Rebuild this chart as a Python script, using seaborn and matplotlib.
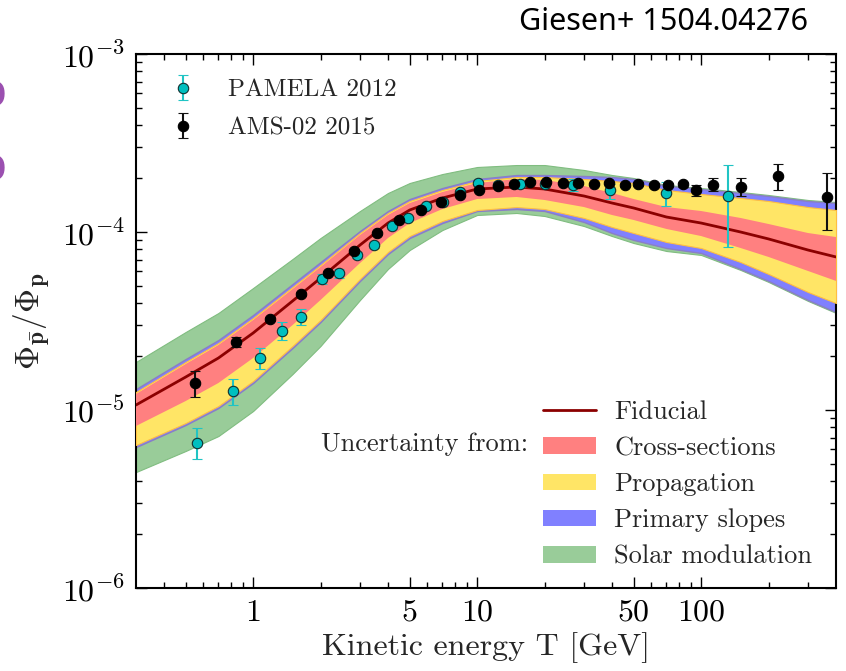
import numpy as np
import pandas as pd
import matplotlib
matplotlib.use("Agg")
import matplotlib.pyplot as plt
import seaborn as sns
from matplotlib.ticker import FixedLocator, FixedFormatter, NullFormatter
from matplotlib.patches import Patch
from matplotlib.lines import Line2D

# ---------------- data ----------------
band_T = [0.3, 0.5, 0.7, 1, 1.5, 2, 3, 4, 5, 7, 10, 15, 20, 30, 40, 50, 70, 100, 150, 200, 300, 400]
fiducial = [1.067e-5, 1.532e-5, 1.959e-5, 2.707e-5, 4.096e-5, 5.51e-5, 8.45e-5, 1.123e-4,
            1.329e-4, 1.552e-4, 1.744e-4, 1.790e-4, 1.744e-4, 1.593e-4, 1.455e-4, 1.364e-4,
            1.214e-4, 1.123e-4, 1.000e-4, 9.14e-5, 7.92e-5, 7.24e-5]
solar_hi = [1.861e-5, 2.743e-5, 3.507e-5, 4.845e-5, 7.05e-5, 9.25e-5, 1.312e-4, 1.656e-4,
            1.885e-4, 2.117e-4, 2.318e-4, 2.378e-4, 2.378e-4, 2.23e-4, 2.09e-4, 2.01e-4,
            1.837e-4, 1.767e-4, 1.678e-4, 1.614e-4, 1.513e-4, 1.474e-4]
slope_hi = [1.312e-5, 1.934e-5, 2.473e-5, 3.417e-5, 5.10e-5, 6.78e-5, 1.013e-4, 1.312e-4,
            1.532e-4, 1.767e-4, 1.985e-4, 2.09e-4, 2.09e-4, 2.064e-4, 2.037e-4, 1.985e-4,
            1.814e-4, 1.744e-4, 1.656e-4, 1.593e-4, 1.493e-4, 1.455e-4]
prop_hi = [1.262e-5, 1.861e-5, 2.379e-5, 3.287e-5, 4.91e-5, 6.53e-5, 9.87e-5, 1.279e-4,
           1.493e-4, 1.722e-4, 1.934e-4, 2.037e-4, 2.037e-4, 1.985e-4, 1.934e-4, 1.885e-4,
           1.722e-4, 1.635e-4, 1.552e-4, 1.493e-4, 1.381e-4, 1.329e-4]
xs_hi = [1.230e-5, 1.813e-5, 2.318e-5, 3.203e-5, 4.78e-5, 6.36e-5, 9.62e-5, 1.246e-4,
         1.455e-4, 1.678e-4, 1.885e-4, 1.985e-4, 1.959e-4, 1.814e-4, 1.656e-4, 1.532e-4,
         1.381e-4, 1.312e-4, 1.199e-4, 1.109e-4, 9.87e-5, 9.37e-5]
xs_lo = [8.13e-6, 1.123e-5, 1.418e-5, 1.959e-5, 3.00e-5, 4.15e-5, 6.69e-5, 9.25e-5,
         1.123e-4, 1.346e-4, 1.532e-4, 1.573e-4, 1.513e-4, 1.381e-4, 1.246e-4, 1.168e-4,
         1.040e-4, 9.49e-5, 8.13e-5, 7.24e-5, 6.04e-5, 5.31e-5]
prop_lo = [6.36e-6, 8.45e-6, 1.053e-5, 1.455e-5, 2.29e-5, 3.203e-5, 5.45e-5, 7.72e-5,
           9.49e-5, 1.153e-4, 1.329e-4, 1.381e-4, 1.346e-4, 1.199e-4, 1.067e-4, 9.87e-5,
           8.79e-5, 8.13e-5, 6.78e-5, 5.81e-5, 4.60e-5, 3.99e-5]
slope_lo = [6.19e-6, 8.24e-6, 1.026e-5, 1.418e-5, 2.23e-5, 3.12e-5, 5.31e-5, 7.52e-5,
            9.25e-5, 1.123e-4, 1.312e-4, 1.346e-4, 1.312e-4, 1.138e-4, 9.87e-5, 9.02e-5,
            8.13e-5, 7.62e-5, 6.20e-5, 5.31e-5, 4.15e-5, 3.55e-5]
solar_lo = [4.48e-6, 5.885e-6, 7.14e-6, 9.87e-6, 1.593e-5, 2.29e-5, 4.15e-5, 6.20e-5,
            7.92e-5, 1.026e-4, 1.246e-4, 1.279e-4, 1.230e-4, 1.080e-4, 9.49e-5, 8.67e-5,
            7.82e-5, 7.43e-5, 6.12e-5, 5.24e-5, 4.10e-5, 3.51e-5]

pam_T = [0.562, 0.813, 1.073, 1.346, 1.636, 2.03, 2.42, 2.91, 3.47, 4.17, 4.91,
         5.91, 7.04, 8.39, 10.09, 12.4, 15.5, 20.1, 26.8, 39.2, 69.7, 131.8]
pam_y = [6.53e-6, 1.279e-5, 1.959e-5, 2.78e-5, 3.33e-5, 5.45e-5, 5.88e-5, 7.43e-5,
         8.45e-5, 1.080e-4, 1.199e-4, 1.400e-4, 1.474e-4, 1.678e-4, 1.885e-4,
         1.837e-4, 1.861e-4, 1.861e-4, 1.837e-4, 1.722e-4, 1.656e-4, 1.593e-4]
pam_lo = [5.31e-6, 1.067e-5, 1.70e-5, 2.47e-5, 3.00e-5, 5.1e-5, 5.55e-5, 7.1e-5,
          8.15e-5, 1.045e-4, 1.165e-4, 1.36e-4, 1.43e-4, 1.63e-4, 1.83e-4,
          1.77e-4, 1.78e-4, 1.78e-4, 1.70e-4, 1.53e-4, 1.40e-4, 8.23e-5]
pam_hi = [7.92e-6, 1.494e-5, 2.23e-5, 3.12e-5, 3.69e-5, 5.8e-5, 6.2e-5, 7.75e-5,
          8.75e-5, 1.115e-4, 1.235e-4, 1.44e-4, 1.52e-4, 1.73e-4, 1.94e-4,
          1.90e-4, 1.94e-4, 1.94e-4, 1.98e-4, 1.861e-4, 1.916e-4, 2.38e-4]

ams_T = [0.550, 0.839, 1.19, 1.636, 2.16, 2.82, 3.57, 4.48, 5.62, 6.90, 8.39,
         10.19, 12.4, 14.6, 17.2, 20.3, 24.2, 28.2, 33.2, 38.8, 45.7, 52.3, 61.6,
         71.1, 83.0, 94.9, 113, 150.7, 220, 365]
ams_y = [1.418e-5, 2.41e-5, 3.24e-5, 4.48e-5, 5.88e-5, 7.82e-5, 9.87e-5, 1.168e-4,
         1.329e-4, 1.474e-4, 1.614e-4, 1.722e-4, 1.814e-4, 1.861e-4, 1.910e-4,
         1.910e-4, 1.885e-4, 1.885e-4, 1.861e-4, 1.885e-4, 1.837e-4, 1.861e-4,
         1.837e-4, 1.837e-4, 1.861e-4, 1.722e-4, 1.837e-4, 1.790e-4, 2.064e-4, 1.573e-4]
ams_lo = [1.183e-5, 2.26e-5, 3.16e-5, 4.38e-5, 5.76e-5, 7.66e-5, 9.68e-5, 1.146e-4,
          1.304e-4, 1.446e-4, 1.583e-4, 1.689e-4, 1.779e-4, 1.825e-4, 1.873e-4,
          1.873e-4, 1.849e-4, 1.849e-4, 1.825e-4, 1.849e-4, 1.800e-4, 1.82e-4,
          1.79e-4, 1.78e-4, 1.80e-4, 1.593e-4, 1.70e-4, 1.593e-4, 1.722e-4, 1.026e-4]
ams_hi = [1.656e-5, 2.57e-5, 3.32e-5, 4.58e-5, 6.00e-5, 7.98e-5, 1.006e-4, 1.19e-4,
          1.354e-4, 1.502e-4, 1.645e-4, 1.755e-4, 1.849e-4, 1.897e-4, 1.947e-4,
          1.947e-4, 1.921e-4, 1.921e-4, 1.897e-4, 1.921e-4, 1.875e-4, 1.90e-4,
          1.88e-4, 1.89e-4, 1.92e-4, 1.837e-4, 2.01e-4, 2.01e-4, 2.41e-4, 2.145e-4]

x_major = [1, 5, 10, 50, 100]
x_major_labels = ["1", "5", "10", "50", "100"]
x_minor = [0.4, 0.5, 0.6, 0.7, 0.8, 0.9, 2, 3, 4, 6, 7, 8, 9, 20, 30, 40, 60, 70, 80, 90, 200, 300]
y_major = [1e-6, 1e-5, 1e-4, 1e-3]
y_major_labels = [r"$10^{-6}$", r"$10^{-5}$", r"$10^{-4}$", r"$10^{-3}$"]

# ---------------- style ----------------
sns.set_style("ticks")
plt.rcParams.update({
    "font.family": "serif",
    "font.serif": ["cmr10", "DejaVu Serif"],
    "mathtext.fontset": "cm",
    "axes.formatter.use_mathtext": True,
    "axes.unicode_minus": False,
})

C_GREEN = "#99cc99"
C_BLUE = "#8080ff"
C_YELLOW = "#ffe566"
C_RED = "#ff8080"
C_FID = "#8b0000"

fig = plt.figure(figsize=(8.46, 6.71), dpi=100)
ax = fig.add_axes([136 / 846, 1 - 588 / 671, 700 / 846, 534 / 671])
ax.set_xscale("log")
ax.set_yscale("log")

ax.fill_between(band_T, solar_lo, solar_hi, facecolor=C_GREEN, edgecolor="#80bd80", lw=0.8, zorder=1)
ax.fill_between(band_T, slope_lo, slope_hi, facecolor=C_BLUE, edgecolor="#8a7fc4", lw=1.0, zorder=2)
ax.fill_between(band_T, prop_lo, prop_hi, facecolor=C_YELLOW, edgecolor="#ffbf40", lw=0.8, zorder=3)
ax.fill_between(band_T, xs_lo, xs_hi, facecolor=C_RED, edgecolor="none", lw=0, zorder=4)

df_fid = pd.DataFrame({"T": band_T, "ratio": fiducial})
sns.lineplot(data=df_fid, x="T", y="ratio", color=C_FID, lw=2, ax=ax, zorder=5, legend=False)

pam_y_a = np.array(pam_y)
ams_y_a = np.array(ams_y)
pam_err = [pam_y_a - np.array(pam_lo), np.array(pam_hi) - pam_y_a]
ams_err = [ams_y_a - np.array(ams_lo), np.array(ams_hi) - ams_y_a]

h_pam = ax.errorbar(pam_T, pam_y, yerr=pam_err, fmt="o", ms=7.5, mfc="#00bfbf",
                    mec="#103030", mew=0.8, ecolor="#20c4c4", elinewidth=1.5,
                    capsize=3.5, capthick=1.5, zorder=6, label="PAMELA 2012")
h_ams = ax.errorbar(ams_T, ams_y, yerr=ams_err, fmt="o", ms=7.5, mfc="black",
                    mec="black", mew=0.8, ecolor="#111111", elinewidth=1.5,
                    capsize=3.5, capthick=1.5, zorder=7, label="AMS-02 2015")

ax.set_xlim(0.3, 400)
ax.set_ylim(1e-6, 1e-3)

ax.xaxis.set_major_locator(FixedLocator(x_major))
ax.xaxis.set_major_formatter(FixedFormatter(x_major_labels))
ax.xaxis.set_minor_locator(FixedLocator(x_minor))
ax.xaxis.set_minor_formatter(NullFormatter())
ax.yaxis.set_major_locator(FixedLocator(y_major))
ax.yaxis.set_major_formatter(FixedFormatter(y_major_labels))
y_minor = [m * 10.0 ** e for e in (-6, -5, -4) for m in range(2, 10)]
ax.yaxis.set_minor_locator(FixedLocator(y_minor))
ax.yaxis.set_minor_formatter(NullFormatter())

ax.tick_params(which="both", direction="in", top=True, right=True, width=1, colors="black")
ax.tick_params(which="major", length=8, labelsize=23, pad=8)
ax.tick_params(which="minor", length=4)
for s in ax.spines.values():
    s.set_linewidth(1.5)
    s.set_color("black")

ax.set_xlabel("Kinetic energy T [GeV]", fontsize=23, labelpad=4)
ax.set_ylabel(r"$\mathbf{\Phi_{\bar{p}}/\Phi_{p}}$", fontsize=24, labelpad=6)

leg1 = ax.legend(handles=[h_pam, h_ams], labels=["PAMELA 2012", "AMS-02 2015"],
                 loc="upper left", bbox_to_anchor=(0.013, 0.995), frameon=False,
                 fontsize=18, handlelength=1.2, handletextpad=1.2, labelspacing=0.62,
                 numpoints=1)
ax.add_artist(leg1)

h2 = [Line2D([0], [0], color=C_FID, lw=2),
      Patch(facecolor=C_RED, edgecolor="none"),
      Patch(facecolor=C_YELLOW, edgecolor="none"),
      Patch(facecolor=C_BLUE, edgecolor="none"),
      Patch(facecolor=C_GREEN, edgecolor="none")]
l2 = ["Fiducial", "Cross-sections", "Propagation", "Primary slopes", "Solar modulation"]
leg2 = ax.legend(handles=h2, labels=l2, loc="lower right", bbox_to_anchor=(1.0, -0.008),
                 frameon=False, fontsize=19, handlelength=2.0, handleheight=0.6,
                 handletextpad=0.7, labelspacing=0.47)
fig.text(528 / 846, 1 - 444 / 671, "Uncertainty from:", fontsize=19, ha="right", va="center")

fig.text(808 / 846, 1 - 22 / 671, "Giesen+ 1504.04276", fontsize=22, ha="right", va="center",
         family=["Noto Sans", "DejaVu Sans"], color="black")
fig.text(0.007, 1 - 97 / 671, "0", fontsize=24, ha="right", va="center", color="#9b50b0",
         family=["DejaVu Sans"], fontweight="bold")
fig.text(0.007, 1 - 170 / 671, "0", fontsize=24, ha="right", va="center", color="#9b50b0",
         family=["DejaVu Sans"], fontweight="bold")

fig.savefig("out.png", dpi=100)
